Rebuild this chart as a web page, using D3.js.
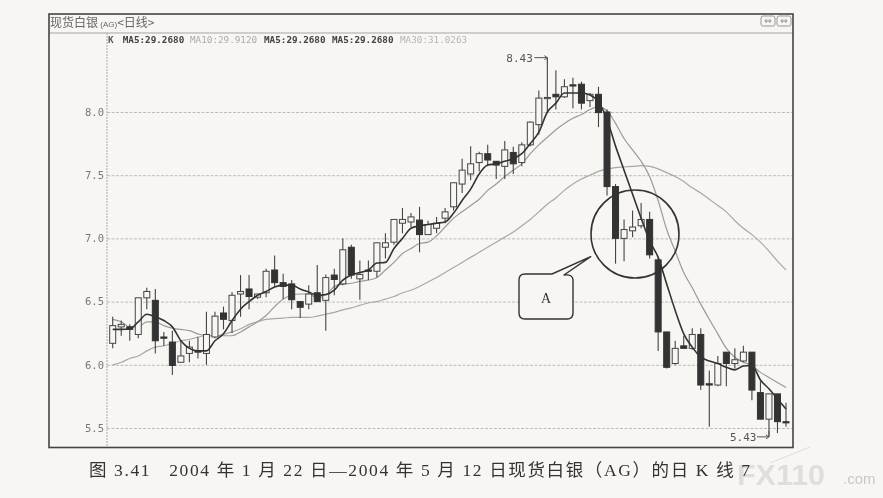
<!DOCTYPE html>
<html><head><meta charset="utf-8">
<script src="https://cdn.jsdelivr.net/npm/d3@7"></script>
<style>html,body{margin:0;padding:0;background:#f7f6f3;overflow:hidden}svg{display:block;filter:blur(0.4px)}</style>
</head><body><svg id="c" width="883" height="498"></svg>
<script>
const opens =[6.17,6.30,6.30,6.24,6.53,6.51,6.22,6.18,6.02,6.09,6.11,6.09,6.22,6.41,6.35,6.56,6.60,6.535,6.57,6.75,6.65,6.64,6.50,6.48,6.57,6.51,6.71,6.64,6.93,6.68,6.75,6.74,6.93,6.97,7.12,7.13,7.145,7.03,7.08,7.16,7.25,7.43,7.51,7.60,7.67,7.61,7.57,7.68,7.60,7.74,7.90,8.11,8.14,8.12,8.215,8.22,8.09,8.14,8.00,7.41,7.00,7.06,7.10,7.15,6.83,6.26,6.01,6.15,6.13,6.24,5.85,5.84,6.10,6.01,6.03,6.10,5.78,5.57,5.77,5.55];
const closes=[6.31,6.32,6.28,6.53,6.58,6.19,6.21,5.995,6.07,6.14,6.10,6.24,6.385,6.36,6.55,6.58,6.54,6.56,6.74,6.65,6.62,6.515,6.455,6.56,6.50,6.69,6.675,6.91,6.71,6.715,6.74,6.965,6.965,7.15,7.15,7.17,7.03,7.11,7.12,7.21,7.44,7.54,7.59,7.67,7.62,7.58,7.70,7.59,7.74,7.92,8.11,8.115,8.12,8.20,8.215,8.07,8.14,7.995,7.41,7.00,7.07,7.09,7.15,6.87,6.26,5.98,6.13,6.13,6.24,5.84,5.84,6.01,6.01,6.04,6.10,5.80,5.57,5.77,5.55,5.545];
const highs =[6.38,6.35,6.32,6.53,6.61,6.60,6.26,6.27,6.19,6.19,6.22,6.42,6.42,6.46,6.575,6.71,6.71,6.56,6.76,6.865,6.72,6.67,6.50,6.63,6.79,6.715,6.76,7.00,6.95,6.825,6.825,6.965,7.04,7.15,7.24,7.20,7.25,7.14,7.17,7.24,7.44,7.63,7.73,7.685,7.74,7.61,7.77,7.725,7.76,7.925,8.17,8.43,8.33,8.26,8.27,8.24,8.15,8.20,8.02,7.43,7.15,7.22,7.28,7.21,6.85,6.26,6.19,6.23,6.29,6.29,5.955,6.07,6.10,6.13,6.15,6.10,5.87,5.77,5.77,5.70];
const lows  =[6.13,6.23,6.19,6.21,6.44,6.09,6.15,5.92,6.02,6.02,6.05,6.00,6.21,6.28,6.25,6.38,6.44,6.52,6.535,6.615,6.52,6.44,6.37,6.44,6.50,6.27,6.55,6.63,6.68,6.515,6.67,6.69,6.84,6.95,7.04,7.09,6.89,7.03,7.04,7.12,7.22,7.36,7.46,7.53,7.57,7.47,7.47,7.51,7.57,7.73,7.82,7.99,8.02,8.11,8.03,8.02,8.04,7.88,7.34,6.80,6.82,7.01,7.08,6.84,6.11,5.97,6.00,6.13,6.12,5.80,5.51,5.83,5.83,5.97,6.02,5.72,5.57,5.43,5.46,5.51];
const ma5 =[6.28,6.28,6.285,6.34,6.40,6.38,6.35,6.30,6.19,6.13,6.11,6.11,6.19,6.245,6.35,6.44,6.50,6.55,6.58,6.615,6.63,6.63,6.60,6.575,6.55,6.555,6.59,6.67,6.71,6.73,6.75,6.805,6.81,6.92,7.00,7.08,7.10,7.11,7.12,7.13,7.20,7.30,7.39,7.51,7.58,7.59,7.61,7.63,7.67,7.75,7.84,8.00,8.07,8.15,8.15,8.15,8.135,8.08,7.94,7.73,7.54,7.35,7.16,6.98,6.85,6.64,6.43,6.245,6.14,6.06,6.03,6.01,5.98,5.96,5.99,5.995,5.88,5.81,5.73,5.65];
const ma10=[6.36,6.34,6.30,6.30,6.34,6.34,6.31,6.29,6.28,6.27,6.245,6.23,6.23,6.23,6.23,6.26,6.30,6.34,6.39,6.46,6.52,6.55,6.56,6.56,6.53,6.55,6.62,6.64,6.645,6.66,6.67,6.69,6.75,6.81,6.88,6.92,6.96,6.97,7.02,7.09,7.16,7.21,7.26,7.31,7.38,7.43,7.49,7.54,7.59,7.67,7.74,7.80,7.86,7.91,7.95,7.98,8.02,8.04,8.01,7.91,7.79,7.70,7.61,7.49,7.30,7.07,6.90,6.73,6.61,6.48,6.36,6.245,6.13,6.06,6.02,5.995,5.94,5.90,5.86,5.82];
const ma30=[6.00,6.02,6.05,6.07,6.11,6.14,6.15,6.17,6.19,6.20,6.22,6.23,6.23,6.24,6.26,6.285,6.32,6.34,6.36,6.365,6.37,6.375,6.375,6.375,6.385,6.40,6.415,6.435,6.45,6.47,6.49,6.50,6.52,6.54,6.57,6.59,6.62,6.655,6.69,6.73,6.77,6.81,6.85,6.89,6.93,6.97,7.01,7.05,7.10,7.15,7.21,7.27,7.32,7.38,7.43,7.47,7.50,7.53,7.55,7.56,7.565,7.57,7.575,7.57,7.55,7.52,7.49,7.45,7.40,7.36,7.31,7.26,7.21,7.14,7.08,7.03,6.97,6.90,6.82,6.75];
const yTicks=[5.5,6.0,6.5,7.0,7.5,8.0];
const legendTexts=["K","MA5:29.2680","MA10:29.9120","MA5:29.2680","MA5:29.2680","MA30:31.0263"];
const legendColors=["#555","#444","#aaa","#444","#444","#b5b5b5"];
const legendX=[108,122.7,190,264,332,400];
const titleText="现货白银";
const peak=8.43, trough=5.43;

const svg=d3.select("#c");
const mono="'DejaVu Sans Mono',monospace";
const L=49,R=793,T=14,B=447.5,G=107;
const x=d3.scaleLinear().domain([0,opens.length-1]).range([112.7,786]);
const y=d3.scaleLinear().domain([5.5,8]).range([428,112]);
const paper="#f7f6f3";

// gridlines
const grid=svg.append("g").attr("transform",`translate(${G},0)`)
  .call(d3.axisRight(y).tickValues(yTicks).tickSize(R-G).tickFormat(""));
grid.select(".domain").remove();
grid.selectAll("line").attr("stroke","#bdbcb8").attr("stroke-width",1).attr("stroke-dasharray","3 1.5");

// y labels
const ax=svg.append("g").attr("transform",`translate(${G},0)`)
  .call(d3.axisLeft(y).tickValues(yTicks).tickSize(0).tickPadding(3).tickFormat(d3.format(".1f")));
ax.select(".domain").remove();
ax.selectAll("text").attr("font-family",mono).attr("font-size",10.5).attr("fill","#777");

// frame
svg.append("line").attr("x1",G).attr("x2",G).attr("y1",33).attr("y2",B).attr("stroke","#aaa").attr("stroke-dasharray","2 1");
svg.append("line").attr("x1",L).attr("x2",R).attr("y1",33).attr("y2",33).attr("stroke","#a5a5a5");
svg.append("rect").attr("x",L).attr("y",T).attr("width",R-L).attr("height",B-T).attr("fill","none").attr("stroke","#444").attr("stroke-width",1.6);

// title
const tt=svg.append("text").attr("x",50).attr("y",27).attr("font-family","'Noto Sans CJK SC'").attr("font-size",12).attr("fill","#666");
tt.append("tspan").text(titleText);
tt.append("tspan").attr("font-size",8).attr("font-family","'Liberation Sans'").text(" (AG)");
tt.append("tspan").text("<日线>");

// legend
svg.append("g").selectAll("text").data(legendTexts).join("text")
  .attr("x",(d,i)=>legendX[i]).attr("y",43).attr("font-family",mono).attr("font-size",9.3)
  .attr("fill",(d,i)=>legendColors[i]).attr("font-weight",(d,i)=>i==2||i==5?"normal":"bold").text(d=>d);

// window buttons
[761,777].forEach(bx=>{
  svg.append("rect").attr("x",bx).attr("y",16).attr("width",14).attr("height",10).attr("rx",2).attr("fill","none").attr("stroke","#999");
  svg.append("text").attr("x",bx+7).attr("y",24).attr("text-anchor","middle").attr("font-size",9).attr("fill","#888").attr("font-family","'DejaVu Sans'").text("⇔");
});

// moving averages
const lineGen=d3.line().x((d,i)=>x(i)).y(d=>y(d)).curve(d3.curveMonotoneX);
const lines=[[ma30,"#a8a8a6",1.2],[ma10,"#9a9a98",1.2]];
lines.forEach(([s,c,w])=>svg.append("path").attr("d",lineGen(s)).attr("fill","none").attr("stroke",c).attr("stroke-width",w));

// candles
const idx=d3.range(opens.length);
const g=svg.append("g");
g.selectAll("line").data(idx).join("line")
  .attr("x1",i=>x(i)).attr("x2",i=>x(i)).attr("y1",i=>y(highs[i])).attr("y2",i=>y(lows[i]))
  .attr("stroke","#444").attr("stroke-width",1.1);
g.selectAll("rect").data(idx).join("rect")
  .attr("x",i=>x(i)-3).attr("width",6)
  .attr("y",i=>y(Math.max(opens[i],closes[i])))
  .attr("height",i=>Math.max(1.2,Math.abs(y(opens[i])-y(closes[i]))))
  .attr("fill",i=>closes[i]>opens[i]?paper:"#333")
  .attr("stroke",i=>closes[i]>opens[i]?"#444":"#333").attr("stroke-width",1);

svg.append("path").attr("d",lineGen(ma5)).attr("fill","none").attr("stroke","#333").attr("stroke-width",1.6);

// peak / trough annotations with small arrowheads
const pi=highs.indexOf(peak), ti=lows.indexOf(trough);
svg.append("text").attr("x",x(pi)-41).attr("y",y(peak)+4).attr("font-family",mono).attr("font-size",11).attr("fill","#555").text(peak.toFixed(2));
svg.append("path").attr("d",`M${x(pi)-13},${y(peak)}H${x(pi)}V${y(peak)+6}M${x(pi)-3},${y(peak)-2}L${x(pi)},${y(peak)}L${x(pi)-3},${y(peak)+2}`).attr("fill","none").attr("stroke","#555");
svg.append("text").attr("x",x(ti)-39).attr("y",y(trough)+4).attr("font-family",mono).attr("font-size",11).attr("fill","#555").text(trough.toFixed(2));
svg.append("path").attr("d",`M${x(ti)-12},${y(trough)}H${x(ti)}V${y(trough)-6}M${x(ti)-3},${y(trough)-2}L${x(ti)},${y(trough)}L${x(ti)-3},${y(trough)+2}`).attr("fill","none").attr("stroke","#555");

// circle callout
svg.append("circle").attr("cx",635).attr("cy",234).attr("r",44).attr("fill","none").attr("stroke","#333").attr("stroke-width",1.6);
svg.append("path").attr("d","M590.7,256.7L552,274H525Q519,274 519,280V313Q519,319 525,319H567Q573,319 573,313V280Q573,274 564,275Z")
  .attr("fill",paper).attr("stroke","#333").attr("stroke-width",1.4).attr("stroke-linejoin","round");
svg.append("text").attr("x",546).attr("y",303).attr("text-anchor","middle").attr("font-family","'Liberation Serif'").attr("font-size",14).attr("fill","#333").text("A");

// watermark
svg.append("line").attr("x1",770).attr("y1",463).attr("x2",810).attr("y2",447).attr("stroke","#dedcd9");
svg.append("text").attr("x",737).attr("y",485).attr("font-family","'Liberation Sans'").attr("font-weight","bold").attr("font-size",30)
  .attr("textLength",88).attr("lengthAdjust","spacingAndGlyphs").attr("fill","#dfdedb").text("FX110");
svg.append("text").attr("x",843).attr("y",484).attr("font-family","'Liberation Sans'").attr("font-size",15).attr("fill","#c9c8c5").text(".com");

// caption
svg.append("text").attr("x",89).attr("y",476).attr("font-family","'Liberation Serif','Noto Sans CJK SC'").attr("font-size",17.5).attr("fill","#333")
  .attr("textLength",661).attr("lengthAdjust","spacing").style("white-space","pre")
  .text("图 3.41   2004 年 1 月 22 日—2004 年 5 月 12 日现货白银（AG）的日 K 线 7");
</script></body></html>
